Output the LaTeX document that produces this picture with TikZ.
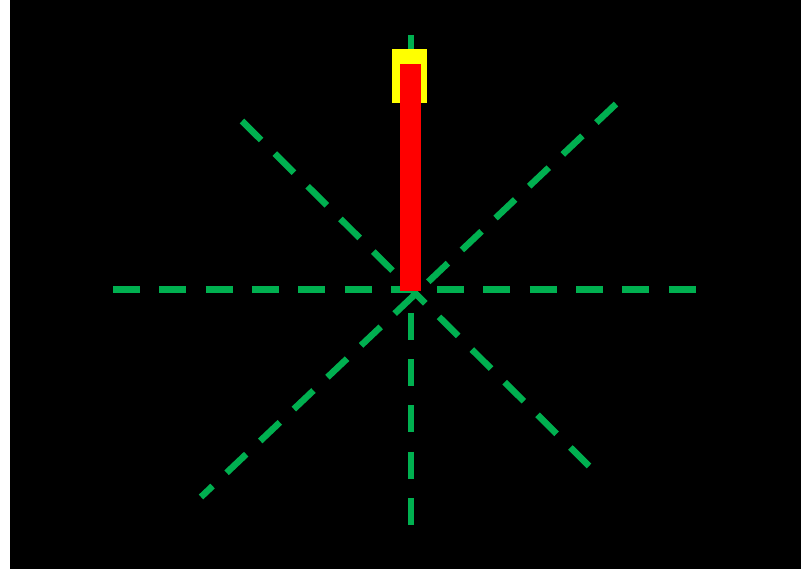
\documentclass[tikz,border=0pt]{standalone}
\usepackage{xcolor}
\usepackage{tikz}
\definecolor{gruen}{HTML}{00B050}
\definecolor{gelb}{HTML}{FFFF00}
\definecolor{rot}{HTML}{FF0000}
\usetikzlibrary{calc}

\begin{document}
\begin{tikzpicture}[x=1pt, y=-1pt,
		strahl/.style={gruen, line width=6.5pt, dash pattern=on 27pt off 19.3pt}]
		%Rahmen
		\useasboundingbox (0,0) rectangle (801,569);

		%Hintergrund
		\fill [black] (10,0) rectangle (801,569);

		%Mittelpunkt
		\coordinate (M) at (411,289.5);

		%Gestrichelte Strahlen
		\draw [strahl] (113,289.5) -- (696,289.5);
		\draw [strahl] (411,35) -- (411,525);
		\draw [strahl] (242,121) -- (589,466);
		\draw [strahl] (616,104) -- (201,497);

		%Halterung
		\fill [gelb] (392,49) rectangle (427,103);

		%Stab
		\fill [rot] (400,64) rectangle (421,291);
	\end{tikzpicture}
\end{document}
